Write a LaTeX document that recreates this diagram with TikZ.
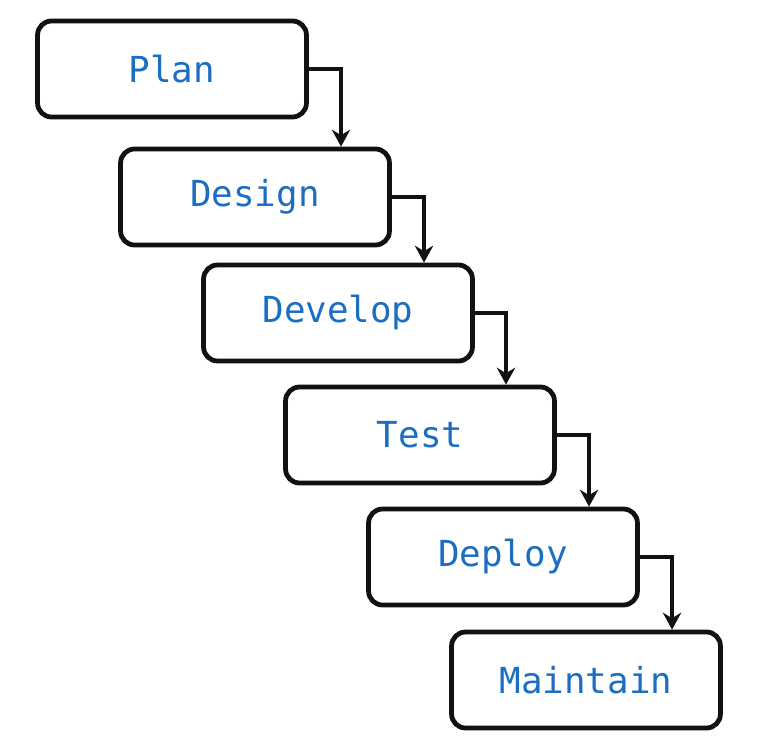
\documentclass[tikz,border=0pt]{standalone}
\usepackage{fontspec}
\setmonofont{DejaVu Sans Mono}
\usepackage{tikz}
\usetikzlibrary{arrows,arrows.meta,shapes,positioning}
\definecolor{stageblue}{HTML}{1C6EC2}
\definecolor{edgeblack}{HTML}{111111}

\tikzset{
  stage/.style={draw=edgeblack, fill=white, rounded corners=0.35cm, line width=3.4pt,
    minimum width=6.72cm, minimum height=2.4cm, text=stageblue,
    font=\ttfamily\fontsize{25.5}{30}\selectfont},
  flow/.style={draw=edgeblack, line width=2.8pt, -{Stealth[length=12pt,width=13pt]}}
}

\begin{document}
\begin{tikzpicture}[x=0.025cm, y=-0.025cm]
      \useasboundingbox (0,0) rectangle (763,749);
      \node[stage] (plan) at (172,69) {Plan}; % first
      \node[stage] (design) at (255,197) {Design};
      \node[stage] (develop) at (338,313) {Develop};
      \node[stage] (test) at (420,435) {Test};
      \node[stage] (deploy) at (503,557) {Deploy};
      \node[stage] (maintain) at (586,680) {Maintain}; % last
      \draw[flow] (plan.east) -| ([xshift=2.15cm]design.north);
      \draw[flow] (design.east) -| ([xshift=2.15cm]develop.north);
      \draw[flow] (develop.east) -| ([xshift=2.15cm]test.north);
      \draw[flow] (test.east) -| ([xshift=2.15cm]deploy.north);
      \draw[flow] (deploy.east) -| ([xshift=2.15cm]maintain.north);
    \end{tikzpicture}
\end{document}
